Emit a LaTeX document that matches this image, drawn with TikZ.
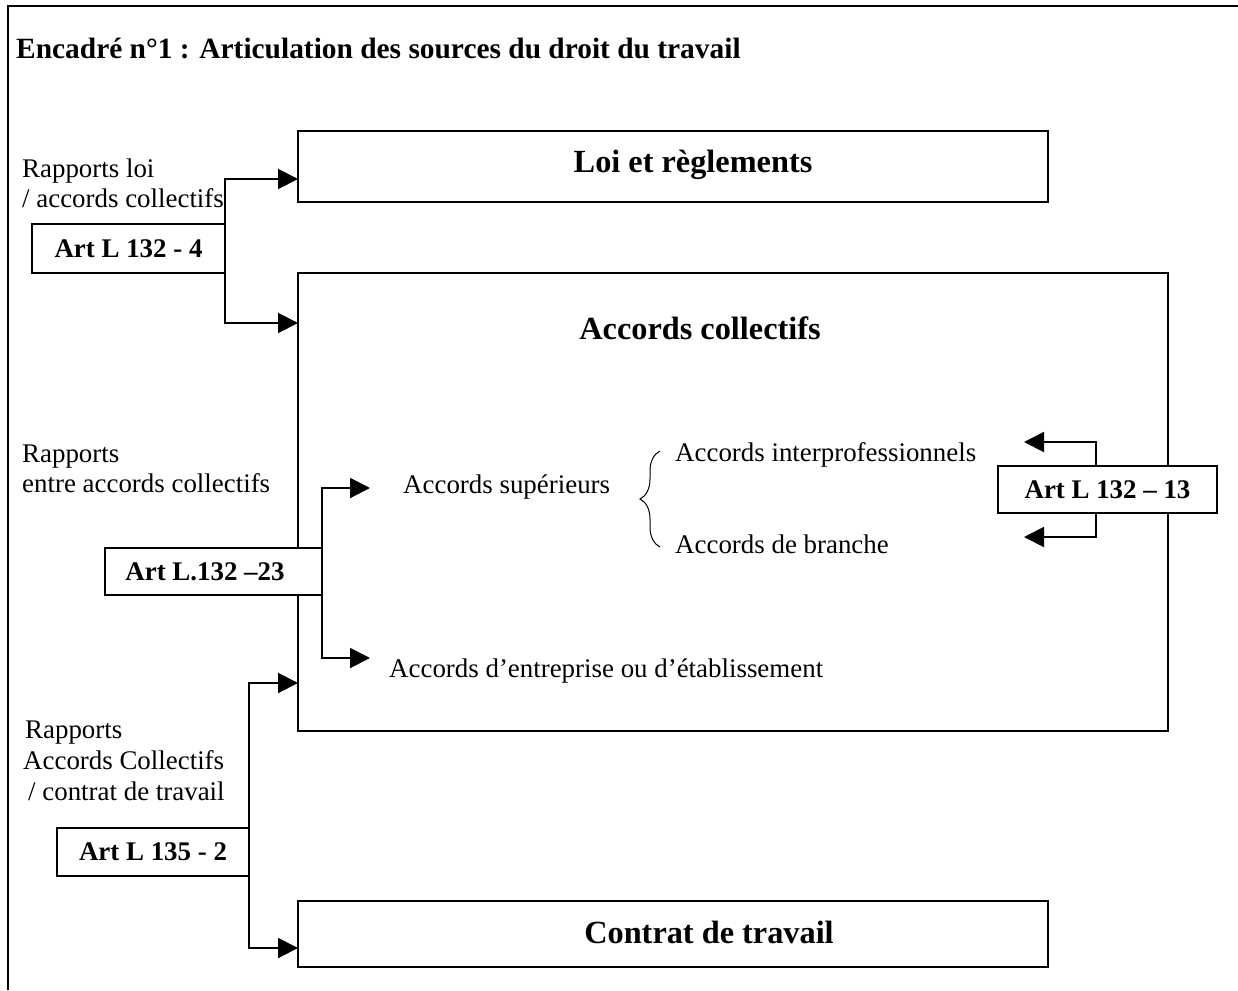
\documentclass[tikz,border=0pt]{standalone}
\usepackage{fontspec}
\setmainfont{Liberation Serif}
\usetikzlibrary{arrows.meta,decorations.pathreplacing}
\begin{document}
\begin{tikzpicture}[x=1pt,y=-1pt,
  box/.style={draw, line width=2pt, inner sep=0pt, outer sep=0pt, fill=white, anchor=north west},
  arr/.style={-{Triangle[length=20pt,width=20pt]}, line width=2pt},
  txt/.style={anchor=base west, inner sep=0pt, font=\fontsize{26.9}{30}\selectfont},
  btxt/.style={font=\fontsize{26.9}{30}\selectfont\bfseries},
  ttl/.style={anchor=base, inner sep=0pt, font=\fontsize{32.3}{36}\selectfont\bfseries}]
\useasboundingbox (0,0) rectangle (1238,990);
% outer frame
\draw[line width=2.5pt] (8,990) -- (8,6) -- (1238,6);
\node[anchor=base west, inner sep=0pt, font=\fontsize{29.4}{32}\selectfont\bfseries] (title) at (16,59) {Encadré n°1 : Articulation des sources du droit du travail};

% main boxes
\node[box, minimum width=750pt, minimum height=71pt] (loi) at (298,131) {};
\node[box, minimum width=870pt, minimum height=458pt] (acc) at (298,273) {};
\node[box, minimum width=750pt, minimum height=66pt] (contrat) at (298,901) {};
\node[ttl] (loit) at (693,172) {Loi et règlements};
\node[ttl] (acct) at (700,339) {Accords collectifs};
\node[ttl] (contratt) at (709,943) {Contrat de travail};

% article boxes
\node[box, btxt, minimum width=193pt, minimum height=49pt] (a4) at (32,224) {Art L 132 - 4};
\node[box, btxt, minimum width=217pt, minimum height=47pt] (a23) at (105,548) {Art L.132 –23\hspace*{17pt}};
\node[box, btxt, minimum width=219pt, minimum height=47pt] (a13) at (998,466) {Art L 132 – 13};
\node[box, btxt, minimum width=192pt, minimum height=48pt] (a2) at (57,828) {Art L 135 - 2};

% left labels
\node[txt] (r1a) at (22,177) {Rapports loi};
\node[txt] (r1b) at (22,207) {/ accords collectifs};
\node[txt] (r2a) at (22,462) {Rapports};
\node[txt] (r2b) at (22,492) {entre accords collectifs};
\node[txt] (r3a) at (25,738) {Rapports};
\node[txt] (r3b) at (23,769) {Accords Collectifs};
\node[txt] (r3c) at (28,800) {/ contrat de travail};

% inner texts
\node[txt] (sup) at (403,493) {Accords supérieurs};
\node[txt] (inter) at (675,461) {Accords interprofessionnels};
\node[txt] (branche) at (675,553) {Accords de branche};
\node[txt] (entr) at (389,677) {Accords d’entreprise ou d’établissement};

% brace
\draw[line width=1pt, decorate, decoration={brace, amplitude=20pt}]
  (660,547) -- (660,451);

% connectors
\coordinate (t1) at (370,488);
\coordinate (t2) at (370,658);
\coordinate (t3) at (1024,442);
\coordinate (t4) at (1024,537);
\draw[arr] (a4.east) |- (loi.west |- 0,179);
\draw[arr] (a4.east) |- (acc.west |- 0,323);
\draw[arr] (a23.east) |- (t1);
\draw[arr] (a23.east) |- (t2);
\draw[arr] (a13.north -| 1096,0) |- (t3);
\draw[arr] (a13.south -| 1096,0) |- (t4);
\draw[arr] (a2.east) |- (acc.west |- 0,683);
\draw[arr] (a2.east) |- (contrat.west |- 0,948);
\end{tikzpicture}
\end{document}
